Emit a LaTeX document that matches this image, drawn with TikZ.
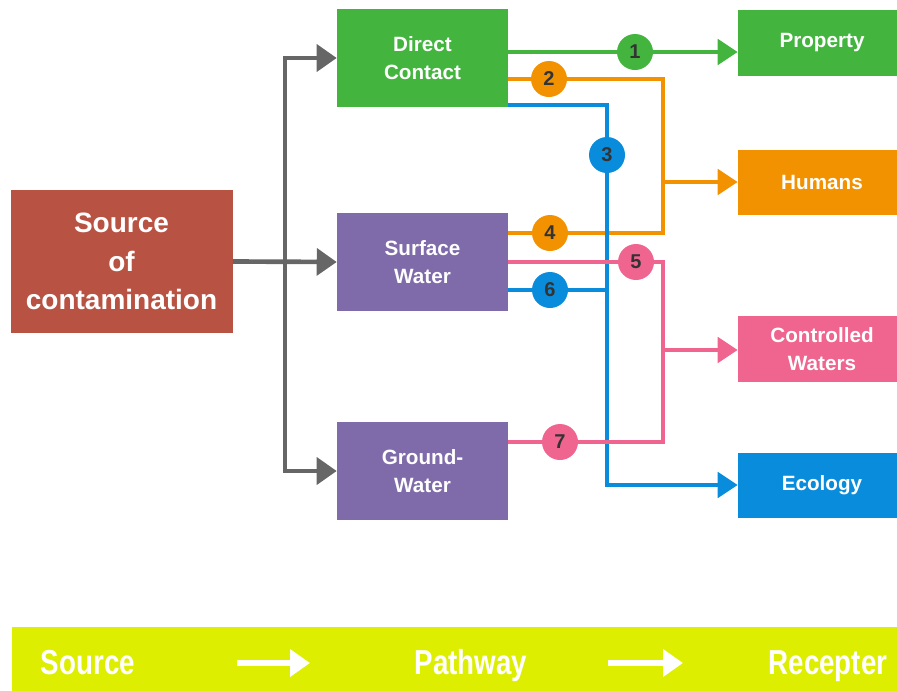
\documentclass[tikz,border=0pt]{standalone}
\usepackage{fontspec}
\setmainfont{Liberation Sans}
\newfontfamily\narrowfont[FakeStretch=0.8]{Liberation Sans}
\usetikzlibrary{arrows.meta}
\definecolor{srcred}{HTML}{B85243}
\definecolor{cgreen}{HTML}{43B53F}
\definecolor{cpurple}{HTML}{7F6BAA}
\definecolor{corange}{HTML}{F39200}
\definecolor{cpink}{HTML}{F0658F}
\definecolor{cblue}{HTML}{0A8CDC}
\definecolor{cgray}{HTML}{666666}
\definecolor{cbar}{HTML}{DDEE00}
\definecolor{cdigit}{HTML}{333333}
\def\u{0.75pt}
\tikzset{
  box/.style={draw=none, fill=#1, text=white, align=center, inner sep=0pt,
    font=\bfseries\fontsize{15.5}{21}\selectfont},
  midbox/.style={box=#1, minimum width=171*\u, minimum height=98*\u},
  recbox/.style={box=#1, minimum width=168*\u, minimum height=65*\u},
  garr/.style={draw=cgray, line width=3.5pt, -{Triangle[length=15pt,width=20pt]}},
  carr/.style={draw=#1, line width=3pt, -{Triangle[length=15pt,width=19pt]}},
  cline/.style={draw=#1, line width=3pt},
  num/.style={circle, fill=#1, minimum size=36*\u, inner sep=0pt, text=cdigit,
    font=\bfseries\fontsize{15}{15}\selectfont},
  bartext/.style={text=white, font=\narrowfont\bfseries\fontsize{26}{26}\selectfont, inner sep=0pt, anchor=base},
  warr/.style={draw=white, line width=4.5pt, -{Triangle[length=15pt,width=20pt]}}
}
\begin{document}
\begin{tikzpicture}[x=0.75pt, y=-0.75pt]
\useasboundingbox (0,0) rectangle (897,690);
\begin{scope}
\clip (0,0) rectangle (897,690);
% source
\node[box=srcred, minimum width=222*\u, minimum height=143*\u,
  font=\bfseries\fontsize{21}{29}\selectfont] (src) at (121.5,261.5) {Source\\of\\contamination};
% pathway boxes
\node[midbox=cgreen] (dc) at (422.5,58) {Direct\\Contact};
\node[midbox=cpurple] (sw) at (422.5,262) {Surface\\Water};
\node[midbox=cpurple] (gw) at (422.5,471) {Ground-\\Water};
% receptors
\node[recbox=cgreen, minimum height=66*\u] (prop) at (822,43) {Property};
\node[recbox=corange] (hum) at (822,182) {Humans};
\node[recbox=cpink, minimum height=66*\u] (cw) at (822,349) {Controlled\\Waters};
\node[recbox=cblue] (eco) at (822,485) {Ecology};
% gray connectors
\coordinate (trunk) at (285,262);
\draw[garr] (src.east) -- (sw.west);
\draw[garr] (trunk) |- (dc.west);
\draw[garr] (trunk) |- (gw.west);
% colored connectors
\draw[carr=cgreen] (dc.east |- 0,52) -- (prop.west |- 0,52);
\draw[carr=corange] (dc.east |- 0,79) -| (663,182) -- (hum.west);
\draw[cline=corange] (sw.east |- 0,233) -| (663,182);
\draw[carr=cblue] (dc.east |- 0,105) -| (607,485) -- (eco.west);
\draw[cline=cblue] (sw.east |- 0,290) -- (607,290);
\draw[carr=cpink] (sw.east |- 0,262) -| (663,350) -- (cw.west |- 0,350);
\draw[cline=cpink] (gw.east |- 0,442) -| (663,350);
% number circles
\node[num=cgreen] (n1) at (635,52) {1};
\node[num=corange] (n2) at (549,79) {2};
\node[num=cblue] (n3) at (607,155) {3};
\node[num=corange] (n4) at (550,233) {4};
\node[num=cpink] (n5) at (636,262) {5};
\node[num=cblue] (n6) at (550,290) {6};
\node[num=cpink] (n7) at (560,442) {7};
% bottom bar
\node[fill=cbar, minimum width=900*\u, minimum height=64*\u, inner sep=0pt, anchor=north west] (bar) at (12,627) {};
\node[bartext] (ls) at (88,674) {Source};
\node[bartext] (lp) at (471,674) {Pathway};
\node[bartext] (lr) at (828,674) {Recepter};
\coordinate (a1s) at (237,663);
\coordinate (a1e) at (310,663);
\coordinate (a2s) at (608,663);
\coordinate (a2e) at (683,663);
\draw[warr] (a1s) -- (a1e);
\draw[warr] (a2s) -- (a2e);
\end{scope}
\end{tikzpicture}
\end{document}
